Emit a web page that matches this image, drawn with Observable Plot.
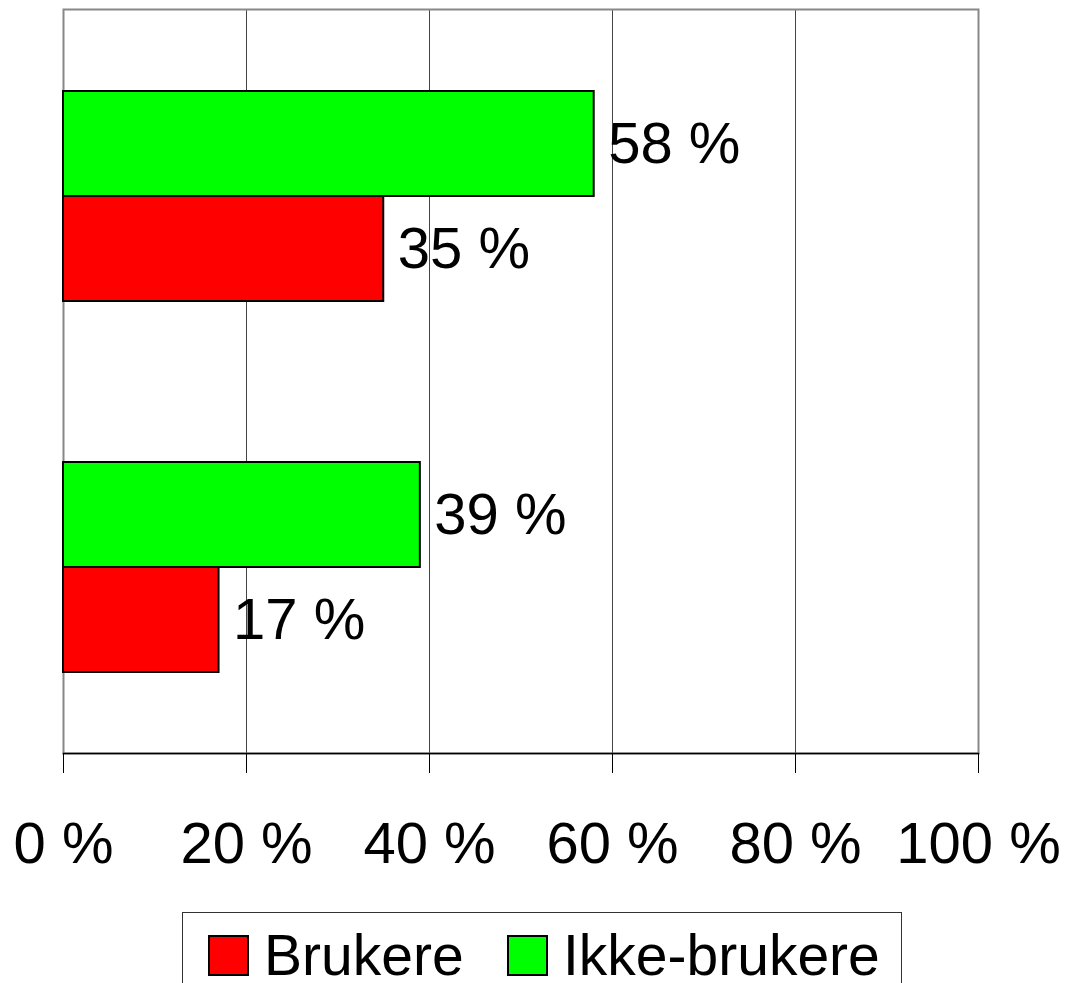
<!DOCTYPE html>
<html>
<head>
<meta charset="utf-8">
<script src="https://cdn.jsdelivr.net/npm/d3@7"></script>
<script src="https://cdn.jsdelivr.net/npm/@observablehq/plot@0.6"></script>
<style>
  body { margin: 0; background: #fff; font-family: "Liberation Sans", Arial, sans-serif; }
  #chart svg { display: block; }
  .legend { position: absolute; left: 182px; top: 912px; width: 720px; height: 71px; border: 1px solid #333; border-bottom: none; box-sizing: border-box; background: #fff; overflow: hidden; }
  .item { position: absolute; top: 15px; display: flex; align-items: center; font-size: 57px; line-height: 54px; color: #000; }
  .sw { width: 37px; height: 37px; border: 2px solid #000; margin-right: 15px; }
</style>
</head>
<body>
<div id="chart"></div>
<div class="legend">
  <div class="item" id="li0" style="left:25px"><div class="sw"></div><span></span></div>
  <div class="item" id="li1" style="left:324px"><div class="sw"></div><span></span></div>
</div>
<script>
const categories = ["Gruppe 1", "Gruppe 2"];
const series = ["Brukere", "Ikke-brukere"];
const colors = ["#ff0000", "#00ff00"];
const brukere = [35, 17];
const ikkeBrukere = [58, 39];
const xTicks = [0, 20, 40, 60, 80, 100];

const dataB = categories.map((c, i) => ({category: c, value: brukere[i]}));
const dataI = categories.map((c, i) => ({category: c, value: ikkeBrukere[i]}));

const font = "'Liberation Sans', Arial, sans-serif";
const half = 105;

const chart = Plot.plot({
  width: 1068,
  height: 900,
  marginLeft: 63,
  marginRight: 90,
  marginTop: 9,
  marginBottom: 147,
  style: {fontFamily: font, background: "#fff"},
  x: {domain: [0, 100]},
  y: {domain: categories, paddingInner: 0.435, paddingOuter: 0.2177, axis: null},
  marks: [
    Plot.gridX(xTicks.slice(1, -1), {stroke: "#444", strokeOpacity: 1, strokeWidth: 1}),
    Plot.frame({stroke: "#888", strokeWidth: 2}),
    Plot.barX(dataI, {x: "value", y: "category", fill: colors[1], stroke: "#000", strokeWidth: 2, insetBottom: half}),
    Plot.barX(dataB, {x: "value", y: "category", fill: colors[0], stroke: "#000", strokeWidth: 2, insetTop: half}),
    Plot.text(dataI, {x: "value", y: "category", text: d => d.value + " %", dy: -half / 2, dx: 14, textAnchor: "start", fontSize: 58, fill: "#000"}),
    Plot.text(dataB, {x: "value", y: "category", text: d => d.value + " %", dy: half / 2, dx: 14, textAnchor: "start", fontSize: 58, fill: "#000"}),
    Plot.frame({anchor: "bottom", stroke: "#000", strokeWidth: 1.5}),
    Plot.axisX(xTicks, {tickSize: 20, tickPadding: 48, tickFormat: d => d + " %", fontSize: 58, stroke: "#000", fill: "#000", label: null})
  ]
});
document.getElementById("chart").appendChild(chart);

series.forEach((s, i) => {
  const el = document.getElementById("li" + i);
  el.querySelector(".sw").style.background = colors[i];
  el.querySelector("span").textContent = s;
});
</script>
</body>
</html>
